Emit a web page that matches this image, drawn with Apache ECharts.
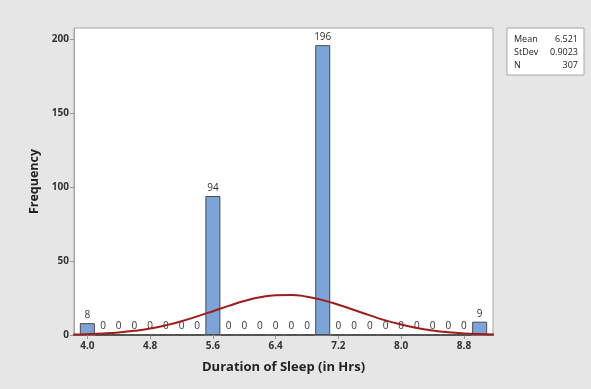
<!DOCTYPE html>
<html>
<head>
<meta charset="utf-8">
<script src="https://cdn.jsdelivr.net/npm/echarts@6/dist/echarts.min.js"></script>
<style>
  html, body { margin: 0; padding: 0; background: #e6e6e6; }
  #chart { width: 591px; height: 389px; }
</style>
</head>
<body>
<div id="chart"></div>
<script>
// 直方图 + 正态拟合曲线
// bin centres (width 0.2) and counts
var binCenters = [4.0, 4.2, 4.4, 4.6, 4.8, 5.0, 5.2, 5.4, 5.6, 5.8, 6.0, 6.2, 6.4,
  6.6, 6.8, 7.0, 7.2, 7.4, 7.6, 7.8, 8.0, 8.2, 8.4, 8.6, 8.8, 9.0];
var counts = [8, 0, 0, 0, 0, 0, 0, 0, 94, 0, 0, 0, 0,
  0, 0, 196, 0, 0, 0, 0, 0, 0, 0, 0, 0, 9];

// fitted curve
var curveX = [3.8, 4.0, 4.2, 4.4, 4.6, 4.8, 5.0, 5.2, 5.4, 5.6, 5.8, 6.0, 6.2, 6.4,
  6.6, 6.8, 7.0, 7.2, 7.4, 7.6, 7.8, 8.0, 8.2, 8.4, 8.6, 8.8, 9.0, 9.2];
var curveY = [0.3, 0.55, 1.0, 1.7, 2.8, 4.4, 6.6, 9.3, 12.6, 16.1, 19.7, 23.0, 25.5, 26.9,
  27.1, 25.9, 23.6, 20.5, 16.9, 13.3, 9.9, 7.1, 4.8, 3.1, 1.9, 1.1, 0.6, 0.3];

var xTicks = [4.0, 4.8, 5.6, 6.4, 7.2, 8.0, 8.8];
var yTicks = [0, 50, 100, 150, 200];

var statNames = ['Mean', 'StDev', 'N'];
var statValues = ['6.521', '0.9023', '307'];

var font = 'Open Sans';
var myChart = echarts.init(document.getElementById('chart'));

var barData = binCenters.map(function (x, i) { return [x, counts[i]]; });
var lineData = curveX.map(function (x, i) { return [x, curveY[i]]; });

// 统计信息框
var graphics = [{
  type: 'rect',
  shape: { x: 507, y: 28, width: 77, height: 47 },
  style: { fill: '#fff', stroke: '#a6a6a6', lineWidth: 1 }
}];
statNames.forEach(function (n, i) {
  graphics.push({
    type: 'text', x: 514, y: 39 + i * 13,
    style: { text: n, font: '9px "' + font + '"', fill: '#222', verticalAlign: 'middle' }
  });
  graphics.push({
    type: 'text', x: 578, y: 39 + i * 13,
    style: { text: statValues[i], font: '9px "' + font + '"', fill: '#222', align: 'right', verticalAlign: 'middle' }
  });
});

var option = {
  backgroundColor: '#e6e6e6',
  animation: false,
  textStyle: { fontFamily: font },
  grid: {
    left: 74, top: 28, right: 98, bottom: 54,
    show: true, backgroundColor: '#fff', borderColor: '#a6a6a6', borderWidth: 1
  },
  xAxis: {
    type: 'value',
    min: 3.83,
    max: 9.17,
    name: 'Duration of Sleep (in Hrs)',
    nameLocation: 'middle',
    nameGap: 26,
    nameTextStyle: { fontSize: 13, fontWeight: 'bold', color: '#222' },
    splitLine: { show: false },
    axisLine: { onZero: false, lineStyle: { color: '#555', width: 1.5 } },
    axisTick: { customValues: xTicks, length: 4, lineStyle: { color: '#999' } },
    axisLabel: {
      customValues: xTicks, fontSize: 10, fontWeight: 'bold', color: '#333', margin: 6,
      formatter: function (v) { return v.toFixed(1); }
    }
  },
  yAxis: {
    type: 'value',
    min: 0,
    max: 207.6,
    name: 'Frequency',
    nameLocation: 'middle',
    nameGap: 31,
    nameTextStyle: { fontSize: 12.5, fontWeight: 'bold', color: '#222' },
    splitLine: { show: false },
    axisLine: { show: true, lineStyle: { color: '#a6a6a6' } },
    axisTick: { show: true, customValues: yTicks, length: 4, lineStyle: { color: '#999' } },
    axisLabel: { customValues: yTicks, fontSize: 10, fontWeight: 'bold', color: '#333', margin: 5 }
  },
  series: [{
    name: 'Frequency',
    type: 'bar',
    data: barData,
    barWidth: 15,
    itemStyle: { color: '#7ba4d8', borderColor: '#4a4a4a', borderWidth: 1 },
    label: { show: true, position: 'top', distance: 3, fontSize: 10, color: '#333' },
    z: 2
  }, {
    name: 'Normal',
    type: 'line',
    data: lineData,
    smooth: true,
    showSymbol: false,
    lineStyle: { color: '#a01c1c', width: 2 },
    z: 3
  }],
  graphic: graphics
};

myChart.setOption(option);
</script>
</body>
</html>
